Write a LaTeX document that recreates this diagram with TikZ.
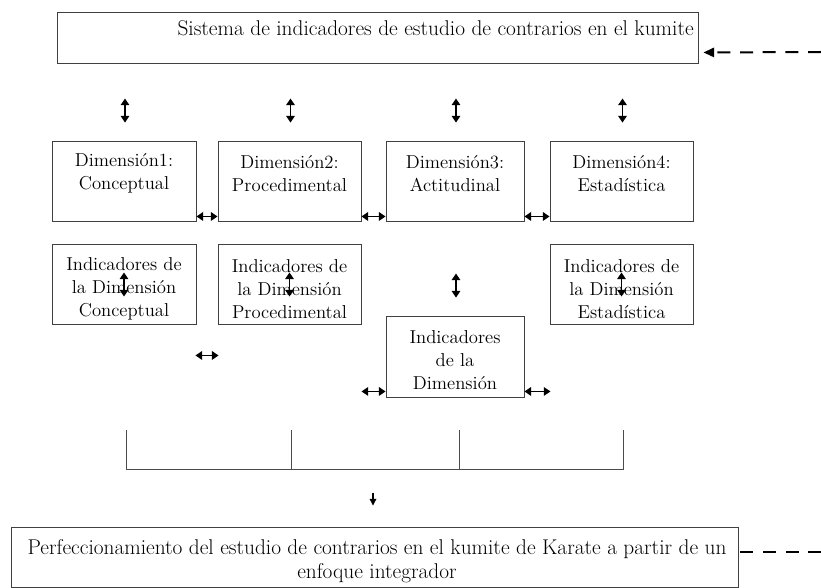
\documentclass[tikz,border=0pt]{standalone}
\usepackage{fontspec}
\usepackage{tikz}
\usetikzlibrary{arrows.meta,calc}

\tikzset{
  box/.style={draw=black!75, line width=0.7pt, inner sep=0pt, minimum width=#1},
  txt/.style={align=center, inner sep=0pt, font=\fontsize{14}{17.25}\selectfont},
  wide/.style={align=center, inner sep=0pt, font=\fontsize{16}{18}\selectfont},
  dbl/.style={{Triangle[length=5pt,width=6.5pt]}-{Triangle[length=5pt,width=6.5pt]}, line width=0.9pt},
  fb/.style={dash pattern=on 9.75pt off 7.25pt, line width=1.5pt},
  brk/.style={draw=black!70, line width=0.6pt}
}

\begin{document}
\begin{tikzpicture}[x=0.75pt,y=-0.75pt]
\useasboundingbox (0,0) rectangle (821,588);
% boxes
\node[box=480.75pt, minimum height=38.25pt] (S) at (377.5,37.5) {};
\node[box=108pt, minimum height=60pt] (D1) at (124,181) {};
\node[box=107.25pt, minimum height=60pt] (D2) at (289.5,181) {};
\node[box=103.5pt, minimum height=60pt] (D3) at (455,181) {};
\node[box=107.25pt, minimum height=60pt] (D4) at (621.5,181) {};
\node[box=108pt, minimum height=60pt] (I1) at (124,284) {};
\node[box=107.25pt, minimum height=60pt] (I2) at (289.5,284) {};
\node[box=103.5pt, minimum height=60.75pt] (I3) at (455,356.5) {};
\node[box=107.25pt, minimum height=60pt] (I4) at (621.5,284) {};
\node[box=545.25pt, minimum height=45pt] (P) at (374.5,557) {};
% texts
\node[wide, anchor=mid east] (tS) at (694,33) {Sistema de indicadores de estudio de contrarios en el kumite};
\node[txt] (tD1) at (124,173.5) {Dimensión1:\\Conceptual};
\node[txt] (tD2) at (289.5,173.5) {Dimensión2:\\Procedimental};
\node[txt] (tD3) at (455,173.5) {Dimensión3:\\Actitudinal};
\node[txt] (tD4) at (621.5,173.5) {Dimensión4:\\Estadística};
\node[txt] (tI1) at (124,289) {Indicadores de\\la Dimensión\\Conceptual};
\node[txt] (tI2) at (289.5,289) {Indicadores de\\la Dimensión\\Procedimental};
\node[txt] (tI3) at (455,360) {Indicadores\\de la\\Dimensión};
\node[txt] (tI4) at (621.5,289) {Indicadores de\\la Dimensión\\Estadística};
\node[wide] (tP) at (377,561) {Perfeccionamiento del estudio de contrarios en el kumite de Karate a partir de un\\enfoque integrador};
% arrows
\foreach \n in {1,...,4}
  \draw[dbl] ($(D\n.north)+(1,-42)$) -- ($(D\n.north)+(1,-18)$);
\draw[dbl] ($(I3.north)+(1,-42)$) -- ($(I3.north)+(1,-18)$);
\foreach \n in {1,2,4}
  \draw[dbl] ($(I\n.center)+(0,-11.5)$) -- ($(I\n.center)+(0,12.5)$);
\draw[dbl] ($(D1.south east)+(0,-5)$) -- ($(D2.south west)+(0,-5)$);
\draw[dbl] ($(D2.south east)+(0,-5)$) -- ($(D3.south west)+(0,-5)$);
\draw[dbl] ($(D3.south east)+(0,-5)$) -- ($(D4.south west)+(0,-5)$);
\draw[dbl] ($(I1.south east)+(-1,31)$) -- ($(I2.south west)+(1,31)$);
\draw[dbl] ($(I3.south west)+(-24,-6)$) -- ($(I3.south west)+(0,-6)$);
\draw[dbl] ($(I3.south east)+(0,-6)$) -- ($(I3.south east)+(26,-6)$);
% bracket
\coordinate (b1) at (126,430);
\coordinate (b2) at (291,430);
\coordinate (b3) at (459,430);
\coordinate (b4) at (623,430);
\draw[brk] (b1) |- ($(b4)+(0,39)$) -- (b4);
\draw[brk] (b2) -- ++(0,39);
\draw[brk] (b3) -- ++(0,39);
\draw[-{Triangle[length=5pt,width=5pt]}, line width=0.8pt] ($(P.north)+(-1.5,-34)$) -- ($(P.north)+(-1.5,-21)$);
% feedback
\coordinate (fin) at (821,52);
\coordinate (fout) at (821,552);
\draw[fb, -{Triangle[length=8pt,width=7pt]}] (fin) -- ($(S.south east)+(5,-11)$);
\draw[fb] ($(P.east)+(2,-5)$) -- (fout);
\end{tikzpicture}
\end{document}
